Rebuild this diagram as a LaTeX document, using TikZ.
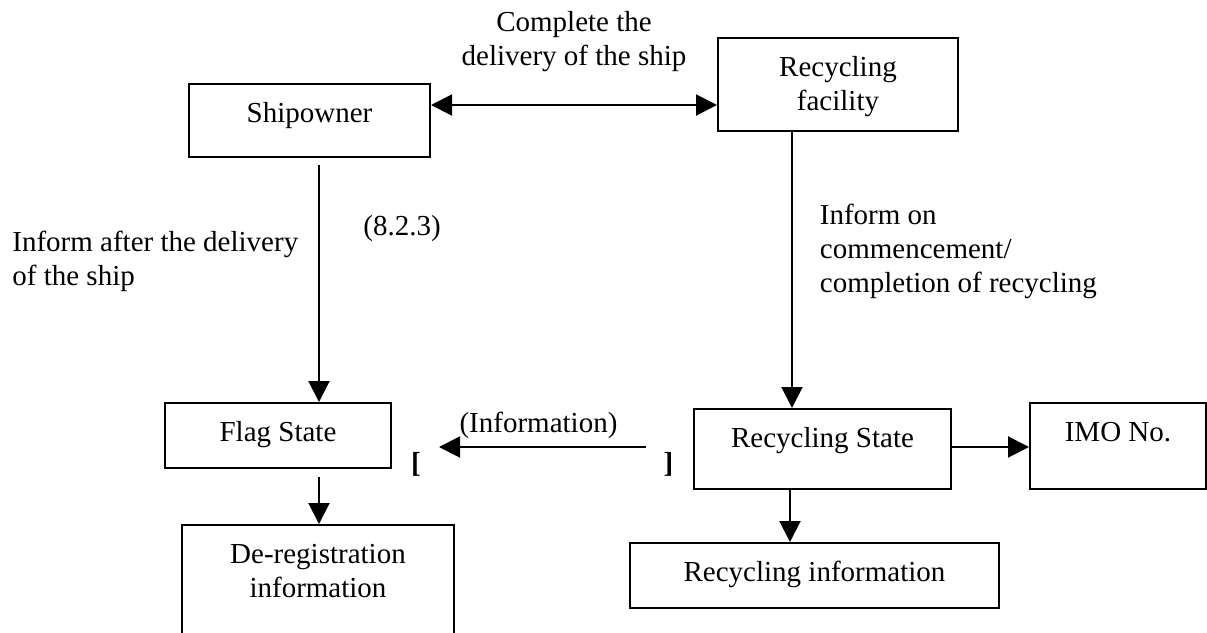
\documentclass[tikz,border=0pt]{standalone}
\usepackage{fontspec}
\setmainfont{Liberation Serif}
\usetikzlibrary{arrows.meta,calc}
\tikzstyle{box}=[draw=black, line width=1pt, rectangle, align=center, anchor=north, inner sep=0pt, text height=19pt]
\tikzstyle{two lines}=[text height=36pt]
\tikzstyle{label text}=[inner sep=0pt, align=left]
\tikzstyle{my arrow}=[>={Triangle[length=10.5pt,width=10.5pt]}, ->, line width=1pt]

\begin{document}
\begin{tikzpicture}[x=0.5pt,y=-0.5pt,font=\fontsize{14.5pt}{17pt}\selectfont]
\useasboundingbox (0,0) rectangle (1207,633);

\draw (309.5,83) node[box,minimum width=120.5pt,text depth=17.5pt] (ship) {Shipowner};
\draw (838,37) node[box,two lines,minimum width=120pt,text depth=10.5pt] (facility) {Recycling\\facility};
\draw (278,402) node[box,minimum width=113pt,text depth=13.5pt] (flag) {Flag State};
\draw (318,524) node[box,two lines,minimum width=136pt,text depth=34pt] (dereg) {De-registration\\information};
\draw (822.5,408) node[box,minimum width=128.5pt,text depth=21pt] (rstate) {Recycling State};
\draw (1118,402) node[box,minimum width=88pt,text depth=24pt] (imo) {IMO No.};
\draw (814.5,542) node[box,minimum width=184.5pt,text depth=13.5pt] (rinfo) {Recycling information};

% texts beside the arrows (base = last line)
\draw (574,65) node[label text,align=center,anchor=base] (complete) {Complete the\\delivery of the ship};
\draw (12,285) node[label text,anchor=base west] (informafter) {Inform after the delivery\\of the ship};
\draw (363,235) node[label text,anchor=base west] (sect) {(8.2.3)};
\draw (819.5,292) node[label text,anchor=base west] (informon) {Inform on\\commencement/\\completion of recycling};
\draw (538.5,432) node[label text,anchor=base] (info) {(Information)};
\draw (416,472) node[label text,anchor=base] (lbr) {\bfseries [};
\draw (668.5,472) node[label text,anchor=base] (rbr) {\bfseries ]};

\coordinate (infoS) at (646,447);
\coordinate (infoE) at (439,447);

\draw[my arrow,<->] ([yshift=7.75pt]ship.east) -- ([yshift=7.75pt]ship.east -| facility.west);
\draw[my arrow,shorten <=3.5pt] ([xshift=4.75pt]ship.south) -- ([xshift=4.75pt]ship.south |- flag.north);
\draw[my arrow] ([xshift=-23pt]facility.south) -- ([xshift=-23pt]facility.south |- rstate.north);
\draw[my arrow,shorten <=4pt] ([xshift=20.5pt]flag.south) -- ([xshift=20.5pt]flag.south |- dereg.north);
\draw[my arrow] ([xshift=-16.25pt]rstate.south) -- ([xshift=-16.25pt]rstate.south |- rinfo.north);
\draw[my arrow] ([yshift=1pt]rstate.east) -- ([yshift=1pt]rstate.east -| imo.west);
\draw[my arrow] (infoS) -- (infoE);

\end{tikzpicture}
\end{document}
